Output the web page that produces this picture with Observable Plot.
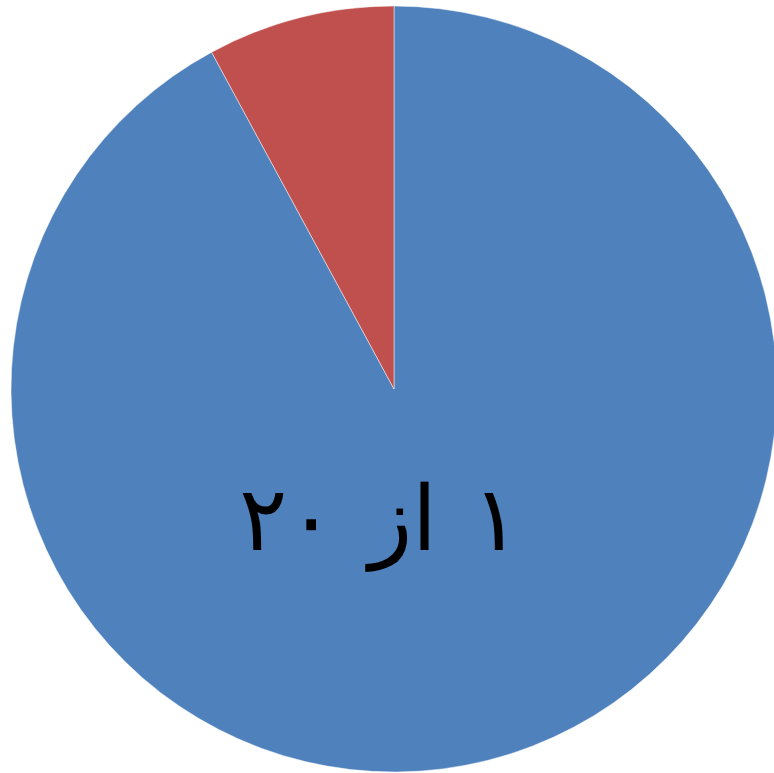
<!DOCTYPE html>
<html>
<head>
<meta charset="utf-8">
<script src="https://cdn.jsdelivr.net/npm/d3@7"></script>
<script src="https://cdn.jsdelivr.net/npm/@observablehq/plot@0.6"></script>
<style>
  html, body { margin: 0; padding: 0; background: #fff; }
</style>
</head>
<body>
<div id="chart"></div>
<script>
const categories = ["A", "B"];
const values = [92.1, 7.9];
const colors = ["#4F81BD", "#C0504D"];
const labelText = ["١ از ٢٠"];
const labelX = [-0.04];
const labelY = [-0.418];

const data = categories.map((c, i) => ({category: c, value: values[i]}));
const labels = labelText.map((t, i) => ({text: t, x: labelX[i], y: labelY[i]}));

const color = Plot.scale({color: {type: "ordinal", domain: categories, range: colors}});

function pieMark(index, scales) {
  const cx = scales.x(0), cy = scales.y(0);
  const r = scales.x(1) - scales.x(0);
  const arcs = d3.pie().sort(null).value(d => d.value)(data);
  const arc = d3.arc().innerRadius(0).outerRadius(r);
  const g = d3.create("svg:g").attr("transform", `translate(${cx},${cy})`);
  g.selectAll("path").data(arcs).join("path")
    .attr("d", arc)
    .attr("fill", d => color.apply(d.data.category))
    .attr("stroke", "#ffffff")
    .attr("stroke-opacity", 0.6)
    .attr("stroke-width", 0.8);
  return g.node();
}

const chart = Plot.plot({
  width: 774,
  height: 773,
  margin: 0,
  x: {domain: [-1, 1], range: [11, 777], axis: null},
  y: {domain: [-1, 1], range: [772, 6], axis: null},
  marks: [
    pieMark,
    Plot.text(labels, {
      x: "x", y: "y", text: "text",
      fontSize: 90,
      fontFamily: "'Liberation Serif', 'DejaVu Serif', serif",
      fill: "#000",
      textAnchor: "middle",
      lineAnchor: "bottom"
    })
  ]
});
chart.querySelectorAll("text").forEach(t => {
  t.setAttribute("direction", "rtl");
  t.setAttribute("letter-spacing", "14");
  t.setAttribute("word-spacing", "12");
});
document.getElementById("chart").appendChild(chart);
</script>
</body>
</html>
